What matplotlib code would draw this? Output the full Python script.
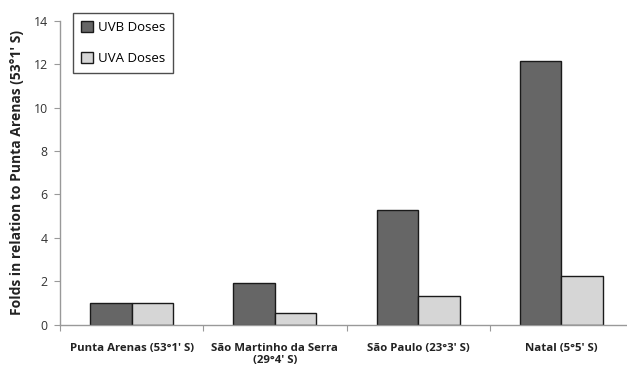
import matplotlib
matplotlib.use("Agg")
from matplotlib import pyplot as plt
import numpy as np

# values
sites = ["Punta Arenas (53°1' S)", "São Martinho da Serra\n(29°4' S)",
         "São Paulo (23°3' S)", "Natal (5°5' S)"]
uvb = [1.0, 1.9, 5.27, 12.17]
uva = [1.0, 0.52, 1.31, 2.25]

plt.rcParams['font.family'] = ['Open Sans', 'DejaVu Sans']

fig = plt.figure(figsize=(6.27, 3.67), dpi=100)
ax = fig.add_axes([0.0957, 0.1158, 0.9139, 0.827])

x = np.arange(len(sites))
w = 0.29
ax.bar(x - w / 2, uvb, w, color='#666666', edgecolor='#1a1a1a', linewidth=1.0, label='UVB Doses')
ax.bar(x + w / 2, uva, w, color='#d6d6d6', edgecolor='#1a1a1a', linewidth=1.0, label='UVA Doses')

ax.set_xlim(-0.5, len(sites) - 0.5)
ax.set_ylim(0, 14)
ax.set_yticks(range(0, 15, 2))

# category boundaries carry the tick marks, labels sit at the centres
ax.set_xticks(np.arange(-0.5, len(sites), 1.0))
ax.set_xticklabels([])
ax.set_xticks(x, minor=True)
ax.set_xticklabels(sites, minor=True, fontsize=8.2, fontweight='bold', color='#222222')
ax.tick_params(axis='x', which='minor', length=0, pad=13)
ax.tick_params(axis='x', which='major', length=4, color='#999999', direction='out')
ax.tick_params(axis='y', length=4, color='#999999', labelsize=8.8, labelcolor='#333333', pad=5)

for s in ['top', 'right']:
    ax.spines[s].set_visible(False)
for s in ['left', 'bottom']:
    ax.spines[s].set_color('#999999')
    ax.spines[s].set_linewidth(1.0)

ax.set_ylabel("Folds in relation to Punta Arenas (53°1' S)", fontsize=10,
              fontweight='bold', color='#222222', labelpad=7)

leg = ax.legend(loc='upper left', bbox_to_anchor=(0.023, 1.026), borderaxespad=0,
                fontsize=9.5, frameon=True, fancybox=False, edgecolor='#222222',
                handlelength=0.9, handleheight=0.9, handletextpad=0.35,
                labelspacing=1.35, borderpad=0.6)
leg.get_frame().set_linewidth(1.0)

fig.savefig('out.png', dpi=100, facecolor='white')
